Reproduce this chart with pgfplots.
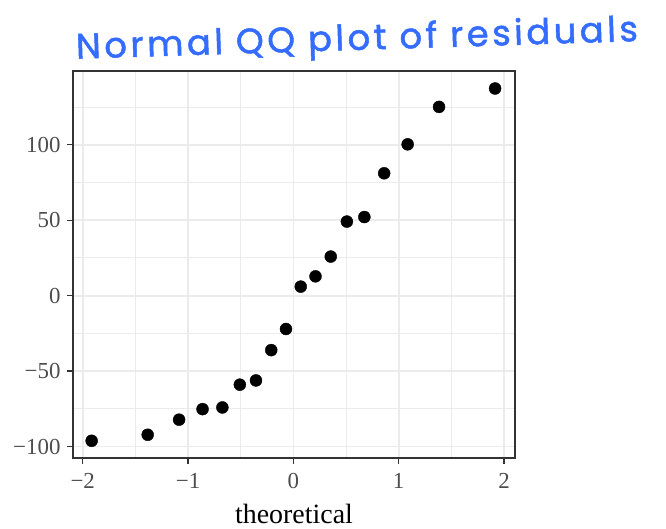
\documentclass[border=0pt]{standalone}
\usepackage{fontspec}
\setmainfont{Liberation Serif}
\newfontfamily\handfont[FakeBold=1.5, LetterSpace=10]{Poppins}
\usepackage{graphicx}
\usepackage{pgfplots}
\usepackage{pgfplotstable}
\pgfplotsset{compat=1.18}

\definecolor{gridgray}{RGB}{235,235,235}
\definecolor{framegray}{RGB}{51,51,51}
\definecolor{ticklabelgray}{RGB}{77,77,77}
\definecolor{penblue}{RGB}{52,108,255}

% theoretical normal quantiles vs. sample residuals
\pgfplotstableread{
x       y
-1.915  -96.2
-1.383  -92.2
-1.085  -82.2
-0.862  -75.2
-0.674  -74.1
-0.508  -59.0
-0.355  -56.2
-0.210  -36.1
-0.070  -22.1
 0.070    6.0
 0.210   12.8
 0.355   25.9
 0.508   49.1
 0.674   52.1
 0.862   81.1
 1.085  100.3
 1.383  125.1
 1.915  137.3
}\qqdata

\begin{document}
\begin{tikzpicture}
\useasboundingbox (-73bp,-71bp) rectangle (593bp,458bp);
\begin{axis}[
  scale only axis, width=442bp, height=387bp,
  xmin=-2.092, xmax=2.104, ymin=-107.6, ymax=148.9,
  xtick={-2,-1,0,1,2}, xticklabels={−2,−1,0,1,2},
  ytick={-100,-50,0,50,100}, yticklabels={−100,−50,0,50,100},
  minor xtick={-1.5,-0.5,0.5,1.5},
  minor ytick={-75,-25,25,75,125},
  tick pos=left,
  grid=both,
  major grid style={draw=gridgray, line width=1.7bp},
  minor grid style={draw=gridgray, line width=0.9bp},
  axis line style={draw=framegray, line width=1.4bp},
  tick align=outside, major tick length=6bp, minor tick length=0pt,
  tick style={draw=framegray, line width=1.2bp},
  tick label style={font=\fontsize{23}{23}\selectfont, text=ticklabelgray},
  xticklabel style={yshift=-6bp},
  yticklabel style={xshift=-3bp},
  xlabel={theoretical},
  xlabel style={font=\fontsize{28}{28}\selectfont, text=black,
    at={(axis description cs:0.5,0)}, anchor=base, yshift=-65bp},
]
\addplot[only marks, mark=*, mark size=6bp,
  mark options={fill=black, draw=black}] table {\qqdata};
\end{axis}
\node[rotate=1.8, text=penblue, inner sep=0pt] at (284bp,417bp)
  {\resizebox{562bp}{!}{\fontsize{33}{33}\handfont Normal QQ plot of residuals}};
\end{tikzpicture}
\end{document}
